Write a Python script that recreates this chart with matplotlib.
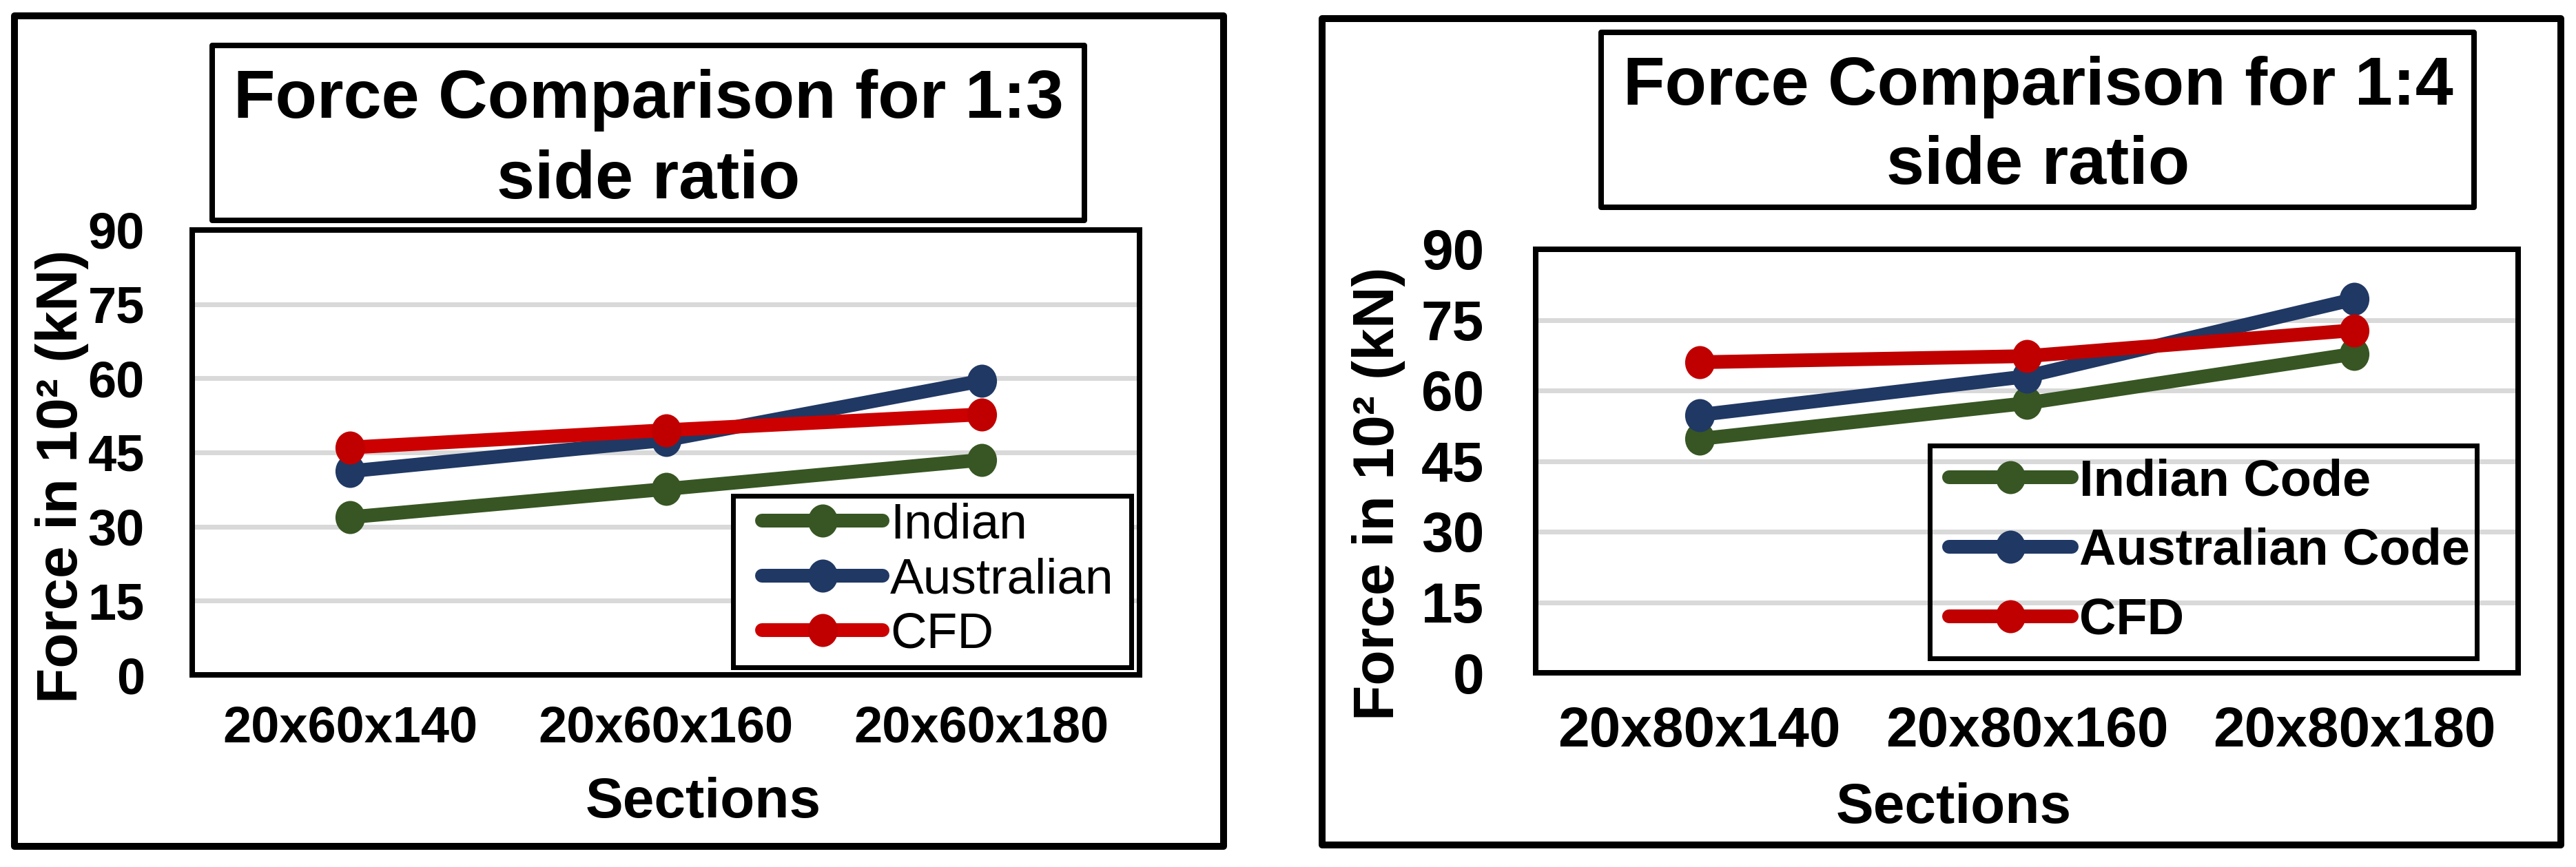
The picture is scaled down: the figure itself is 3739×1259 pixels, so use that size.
#!/usr/bin/env python3

# plot.py
# Force comparison (Indian code / Australian code / CFD) for two side ratios

import numpy as np
import matplotlib
matplotlib.use("Agg")
import matplotlib.pyplot as plt
from matplotlib.patches import Rectangle
from matplotlib.path import Path

# ---- data: 1:3 side ratio ----
sections_13 = ["20x60x140", "20x60x160", "20x60x180"]
indian_13 = [31.9, 37.6, 43.5]
australian_13 = [41.2, 47.5, 59.5]
cfd_13 = [46.0, 49.5, 52.7]
labels_13 = ["Indian", "Australian", "CFD"]

# ---- data: 1:4 side ratio ----
sections_14 = ["20x80x140", "20x80x160", "20x80x180"]
indian_14 = [49.7, 57.3, 67.8]
australian_14 = [54.8, 63.0, 79.4]
cfd_14 = [66.0, 67.3, 72.8]
labels_14 = ["Indian Code", "Australian Code", "CFD"]

y_ticks = [0, 15, 30, 45, 60, 75, 90]

W, H = 3739, 1259
DPI = 100
PX = 72.0 / DPI  # points per pixel

plt.rcParams['font.family'] = ['Liberation Sans', 'DejaVu Sans']

# slightly tall ellipse, like the stretched excel markers
_circle = Path.unit_circle()
ELLIPSE = Path(_circle.vertices * np.array([0.9, 1.0]), _circle.codes)


def frac_box(x0, y0, x1, y1):
    """pixel box (top-left origin) -> figure fraction [l, b, w, h]"""
    return [x0 / W, 1 - y1 / H, (x1 - x0) / W, (y1 - y0) / H]


def fig_frame(fig, box, lw, fc='none'):
    l, b, w, h = frac_box(*box)
    fig.add_artist(Rectangle((l, b), w, h, transform=fig.transFigure,
                             fc=fc, ec='black', lw=lw * PX, joinstyle='round'))


def draw_panel(fig, sections, series, labels, colors, lay):
    fig_frame(fig, lay["outer"], 10)
    fig_frame(fig, lay["title_box"], 8)

    # title, two lines
    cx = lay["title_cx"]
    for text, base in zip(lay["title"], lay["title_base"]):
        fig.text(cx / W, 1 - base / H, text, ha='center', va='baseline',
                 fontsize=99 * PX, fontweight='bold')

    ax = fig.add_axes(frac_box(*lay["plot"]))
    x = np.arange(len(sections))
    for vals, lab, (lc, mc) in zip(series, labels, colors):
        ax.plot(x, vals, color=lc, lw=20 * PX, marker=ELLIPSE, ms=48 * PX,
                mfc=mc, mec=mc, mew=0, label=lab, solid_capstyle='round',
                zorder=3)

    ax.set_xlim(-0.5, len(sections) - 0.5)
    ax.set_ylim(0, 90)
    ax.set_yticks(y_ticks)
    ax.set_xticks(x)
    ax.set_xticklabels(sections)
    ax.tick_params(axis='y', length=0, pad=lay["ypad"] * PX,
                   labelsize=lay["tick_px"] * PX)
    ax.tick_params(axis='x', length=0, pad=lay["xpad"] * PX,
                   labelsize=lay["tick_px"] * PX)
    for t in ax.get_xticklabels() + ax.get_yticklabels():
        t.set_fontweight('bold')

    ax.grid(axis='y', color='#d9d9d9', lw=7 * PX)
    ax.set_axisbelow(True)
    for s in ax.spines.values():
        s.set_linewidth(8 * PX)

    # axis titles
    fig.text(lay["ylab"][0] / W, 1 - lay["ylab"][1] / H, 'Force in 10\u00b2 (kN)',
             rotation=90, ha='center', va='center', fontsize=84 * PX,
             fontweight='bold')
    fig.text(lay["xlab"][0] / W, 1 - lay["xlab"][1] / H, 'Sections',
             ha='center', va='baseline', fontsize=82 * PX, fontweight='bold')

    # legend frame + legend
    l, b, w, h = frac_box(*lay["leg_box"])
    ax.add_patch(Rectangle((l, b), w, h, transform=fig.transFigure,
                           fc=lay["leg_fc"], ec='black', lw=7 * PX,
                           zorder=4, clip_on=False))
    leg = ax.legend(loc='upper left',
                    bbox_to_anchor=(lay["leg_xy"][0] / W, 1 - lay["leg_xy"][1] / H),
                    bbox_transform=fig.transFigure, frameon=False,
                    borderpad=0, borderaxespad=0,
                    handlelength=2.4, handletextpad=0.15,
                    labelspacing=lay["leg_space"],
                    prop=dict(family='Liberation Sans', size=lay["leg_px"] * PX,
                              weight=lay["leg_weight"]))
    leg.set_zorder(5)
    return ax


def main():
    fig = plt.figure(figsize=(W / DPI, H / DPI), dpi=DPI)

    green = '#375623'
    blue = '#203864'

    left = dict(outer=(21, 23, 1776, 1229), title_box=(308, 66, 1574, 320),
                title=["Force Comparison for 1:3", "side ratio"],
                title_cx=941, title_base=(171, 288),
                plot=(279, 334, 1654, 980), ypad=69, xpad=44, tick_px=74,
                ylab=(90, 692), xlab=(1021, 1187),
                leg_box=(1064, 720, 1642, 969), leg_fc='white',
                leg_xy=(1106, 730), leg_space=0.17, leg_px=73,
                leg_weight='normal')
    right = dict(outer=(1919, 27, 3717, 1227), title_box=(2324, 47, 3591, 301),
                 title=["Force Comparison for 1:4", "side ratio"],
                 title_cx=2958, title_base=(152, 267),
                 plot=(2229, 362, 3655, 977), ypad=75, xpad=48, tick_px=82,
                 ylab=(2001, 717), xlab=(2836, 1195),
                 leg_box=(2801, 647, 3595, 956), leg_fc='none',
                 leg_xy=(2829, 665), leg_space=0.43, leg_px=74,
                 leg_weight='bold')

    draw_panel(fig, sections_13, [indian_13, australian_13, cfd_13], labels_13,
               [(green, green), (blue, blue), ('#cc0000', '#c00000')], left)
    draw_panel(fig, sections_14, [indian_14, australian_14, cfd_14], labels_14,
               [(green, green), (blue, blue), ('#c00000', '#c00000')], right)

    fig.savefig('out.png', dpi=DPI)


if __name__ == "__main__":
    main()
